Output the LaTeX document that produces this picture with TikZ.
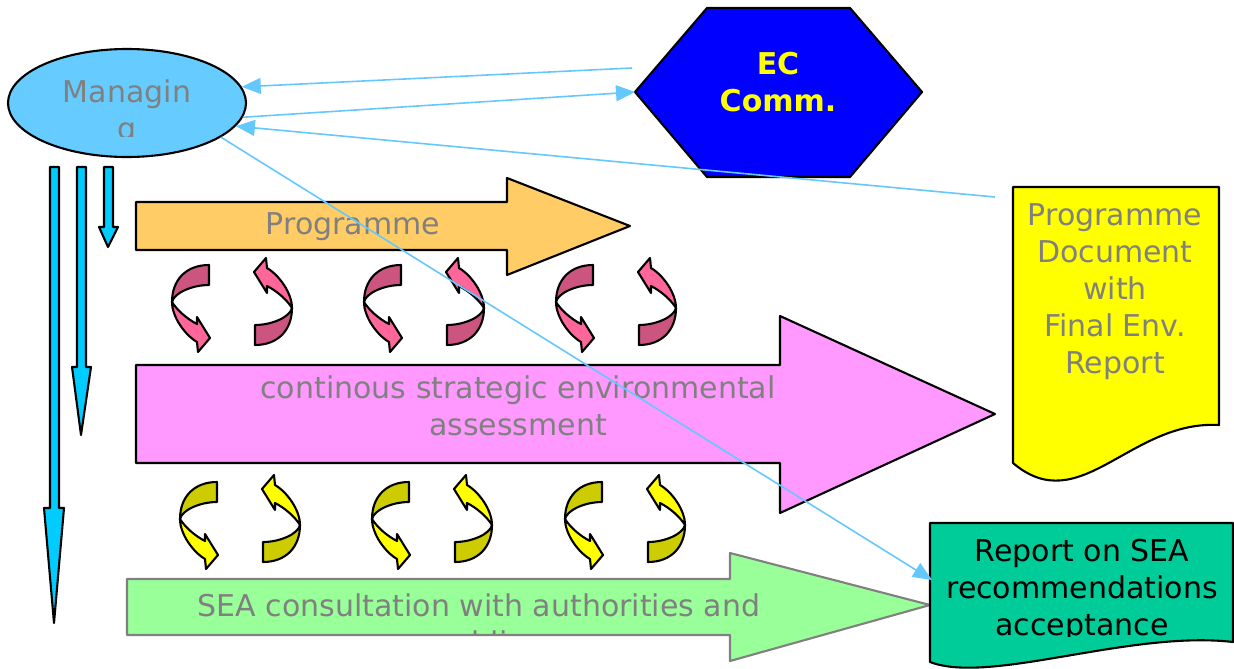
\documentclass[tikz,border=0pt]{standalone}
\usepackage{fontspec}
\setmainfont{DejaVu Sans}
\usetikzlibrary{arrows.meta,shapes.geometric}
\definecolor{txtgray}{RGB}{128,128,128}
\definecolor{mgcol}{RGB}{102,204,255}
\definecolor{eccol}{RGB}{0,0,255}
\definecolor{ectxt}{RGB}{255,255,0}
\definecolor{orangecol}{RGB}{255,204,102}
\definecolor{pinkcol}{RGB}{255,153,255}
\definecolor{greencol}{RGB}{153,255,153}
\definecolor{doccol}{RGB}{255,255,0}
\definecolor{repcol}{RGB}{0,204,153}
\definecolor{downcol}{RGB}{0,204,255}
\definecolor{conncol}{RGB}{100,200,255}
\definecolor{pinklight}{RGB}{255,102,153}
\definecolor{pinkdark}{RGB}{204,85,128}
\definecolor{yellight}{RGB}{255,255,0}
\definecolor{yeldark}{RGB}{204,204,0}
\tikzset{
  outl/.style={draw=black, line width=2.1pt, line join=round},
  lbl/.style={font=\fontsize{30}{37}\selectfont, text=txtgray, align=center, inner sep=0pt},
  conn/.style={draw=conncol, line width=1.6pt, -{Triangle[length=19pt,width=16pt]}},
  pics/curlpair/.style n args={2}{code={
    \foreach \r in {0,180}{
      \begin{scope}[rotate=\r]
        \filldraw[outl, fill=#2] (-23,-40) .. controls (-46,-40) and (-60,-25) .. (-60,-3)
          .. controls (-58,-12) and (-40,-20) .. (-23,-20) -- cycle;
        \filldraw[outl, fill=#1] (-60,-3) .. controls (-60,12) and (-47,30) .. (-35,37)
          -- (-34,47) -- (-22,33) -- (-35,12) -- (-35,19)
          .. controls (-45,14) and (-55,5) .. (-60,-3) -- cycle;
      \end{scope}
    }
  }}
}
\begin{document}
\begin{tikzpicture}[x=1pt,y=-1pt]
\useasboundingbox (0,0) rectangle (1234,669);
% down arrows
\filldraw[outl, fill=downcol] (50,167) -- (59,167) -- (59,508) -- (64,508) -- (54,623) -- (44,508) -- (50,508) -- cycle;
\filldraw[outl, fill=downcol] (77,167) -- (86,167) -- (86,367) -- (91,367) -- (81,435) -- (72,367) -- (77,367) -- cycle;
\filldraw[outl, fill=downcol] (104,167) -- (113,167) -- (113,227) -- (118,227) -- (108,247) -- (99,227) -- (104,227) -- cycle;
% managing ellipse
\node[ellipse, draw=black, line width=2.1pt, fill=mgcol, minimum width=238pt, minimum height=108pt, inner sep=0pt] (mg) at (127,103) {};
\begin{scope}
\clip (0,40) rectangle (260,136.5);
\node[lbl] (mgt) at (127,113) {Managin\\g};
\end{scope}
% EC hexagon
\filldraw[outl, fill=eccol] (707,8) -- (850,8) -- (922,92) -- (850,177) -- (707,177) -- (635,92) -- cycle;
\coordinate (ecW) at (635,92);
\node[lbl, text=ectxt, font=\fontsize{30}{37}\selectfont\bfseries] (ec) at (778,82) {EC\\Comm.};
% Programme arrow
\filldraw[outl, fill=orangecol] (136,202) -- (507,202) -- (507,178) -- (630,226) -- (507,275) -- (507,250) -- (136,250) -- cycle;
\node[lbl] (prog) at (353,227) {Programme};
% pink arrow
\filldraw[outl, fill=pinkcol] (136,365) -- (780,365) -- (780,316) -- (995,414) -- (780,513) -- (780,463) -- (136,463) -- cycle;
\node[lbl] (sea) at (518,406) {continous strategic environmental\\assessment};
% green arrow
\filldraw[draw=txtgray, line width=2.1pt, line join=round, fill=greencol] (127,579) -- (730,579) -- (730,553) -- (930,605) -- (730,661) -- (730,635) -- (127,635) -- cycle;
\begin{scope}
\clip (127,579) rectangle (930,633.5);
\node[lbl] (cons) at (479,627) {SEA consultation with authorities and\\public};
\end{scope}
% curl pairs
\pic at (232,305) {curlpair={pinklight}{pinkdark}};
\pic at (424,305) {curlpair={pinklight}{pinkdark}};
\pic at (616,305) {curlpair={pinklight}{pinkdark}};
\pic at (240,522) {curlpair={yellight}{yeldark}};
\pic at (432,522) {curlpair={yellight}{yeldark}};
\pic at (625,522) {curlpair={yellight}{yeldark}};
% programme document
\filldraw[outl, fill=doccol] (1013,187) -- (1219,187) -- (1219,425) .. controls (1130,420) and (1080,520) .. (1013,463) -- cycle;
\node[lbl] (doc) at (1115,292) {Programme\\Document\\with\\Final Env.\\Report};
% report box
\filldraw[outl, fill=repcol] (930,523) -- (1233,523) -- (1233,642) .. controls (1130,630) and (990,685) .. (930,662) -- cycle;
\coordinate (repW) at (932,580);
\begin{scope}
\clip (930,523) rectangle (1233,636);
\node[lbl, text=black] (rep) at (1082,590) {Report on SEA\\recommendations\\acceptance};
\end{scope}
% connectors
\coordinate (c1s) at (632,68);
\coordinate (c3s) at (995,197);
\draw[conn] (c1s) -- (mg.8);
\draw[conn] (mg.-7) -- (ecW);
\draw[conn] (c3s) -- (mg.-12);
\draw[conn] (mg.-20) -- (repW);
\end{tikzpicture}
\end{document}
